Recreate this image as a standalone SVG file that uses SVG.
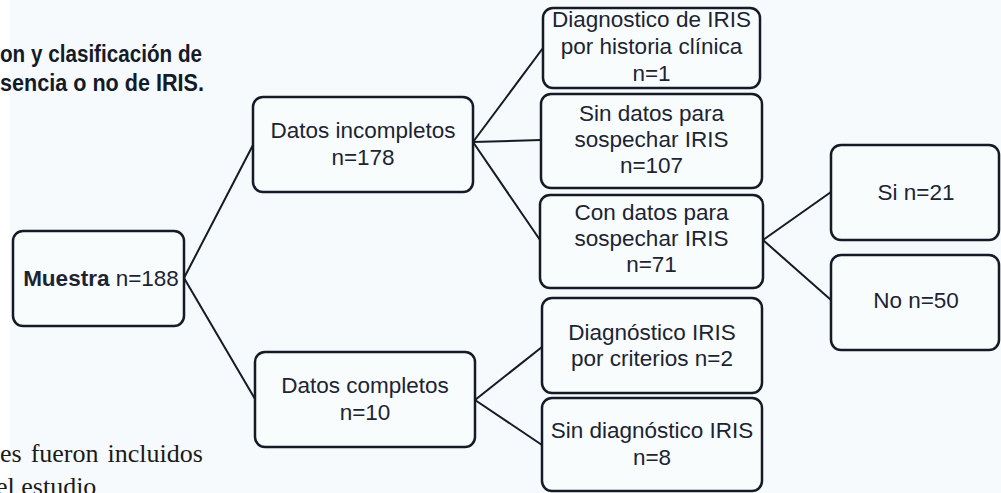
<svg xmlns="http://www.w3.org/2000/svg" width="1001" height="493" viewBox="0 0 1001 493">
<style>
.bg{fill:#f6fafc}
.box{fill:#f9fcfd;stroke:#141a26;stroke-width:2.5}
.t{font-family:"Liberation Sans",Arial,sans-serif;font-size:22.5px;fill:#1c2433;text-anchor:middle}
.b{font-weight:bold}
.title{font-family:"Liberation Sans",Arial,sans-serif;font-size:23px;font-weight:bold;fill:#141a26}
.serif{font-family:"Liberation Serif","Times New Roman",serif;font-size:26px;fill:#1a1a1a}
.conn line{stroke:#141a26;stroke-width:2}
</style>
<rect x="0" y="0" width="1001" height="493" fill="#ffffff"/>
<rect class="bg" x="10" y="0" width="991" height="493"/>
<g id="caption">
<text class="title" x="0" y="62" textLength="202" lengthAdjust="spacingAndGlyphs">on y clasificación de</text>
<text class="title" x="0" y="91" textLength="204" lengthAdjust="spacingAndGlyphs">sencia o no de IRIS.</text>
<text class="serif" x="0" y="462" word-spacing="2.5">es fueron incluidos</text>
<text class="serif" x="-4" y="495">el estudio</text>
</g>
<g class="conn" id="connectors">
<line x1="184" y1="278" x2="253" y2="145"/>
<line x1="184" y1="278" x2="255" y2="399"/>
<line x1="473" y1="142" x2="543" y2="48"/>
<line x1="473" y1="142" x2="541" y2="140"/>
<line x1="473" y1="142" x2="540" y2="240"/>
<line x1="475" y1="400" x2="542" y2="347"/>
<line x1="475" y1="400" x2="542" y2="445"/>
<line x1="763" y1="240" x2="831" y2="192"/>
<line x1="763" y1="240" x2="831" y2="300"/>
</g>
<g id="muestra">
<rect class="box" x="13" y="231" width="171" height="95" rx="10"/>
<text class="t" x="101" y="286"><tspan class="b">Muestra</tspan> n=188</text>
</g>
<g id="datos-incompletos">
<rect class="box" x="253" y="97" width="220" height="95" rx="10"/>
<text class="t" x="363" y="138">Datos incompletos</text>
<text class="t" x="363" y="165">n=178</text>
</g>
<g id="datos-completos">
<rect class="box" x="255" y="352" width="220" height="95" rx="10"/>
<text class="t" x="365" y="393">Datos completos</text>
<text class="t" x="365" y="420">n=10</text>
</g>
<g id="diag-historia">
<rect class="box" x="543" y="8" width="217" height="80" rx="10"/>
<text class="t" x="651.5" y="27">Diagnostico de IRIS</text>
<text class="t" x="651.5" y="54">por historia clínica</text>
<text class="t" x="651.5" y="81">n=1</text>
</g>
<g id="sin-datos">
<rect class="box" x="541" y="94" width="221" height="94" rx="10"/>
<text class="t" x="651.5" y="121">Sin datos para</text>
<text class="t" x="651.5" y="147">sospechar IRIS</text>
<text class="t" x="651.5" y="173">n=107</text>
</g>
<g id="con-datos">
<rect class="box" x="540" y="195" width="223" height="93" rx="10"/>
<text class="t" x="651.5" y="220">Con datos para</text>
<text class="t" x="651.5" y="246">sospechar IRIS</text>
<text class="t" x="651.5" y="272">n=71</text>
</g>
<g id="diag-criterios">
<rect class="box" x="542" y="298" width="220" height="95" rx="10"/>
<text class="t" x="652" y="340">Diagnóstico IRIS</text>
<text class="t" x="652" y="366">por criterios n=2</text>
</g>
<g id="sin-diagnostico">
<rect class="box" x="542" y="398" width="220" height="93" rx="10"/>
<text class="t" x="652" y="438">Sin diagnóstico IRIS</text>
<text class="t" x="652" y="465">n=8</text>
</g>
<g id="si">
<rect class="box" x="831" y="145" width="168" height="95" rx="10"/>
<text class="t" x="916" y="200">Si n=21</text>
</g>
<g id="no">
<rect class="box" x="831" y="255" width="168" height="95" rx="10"/>
<text class="t" x="916" y="308">No n=50</text>
</g>
</svg>
